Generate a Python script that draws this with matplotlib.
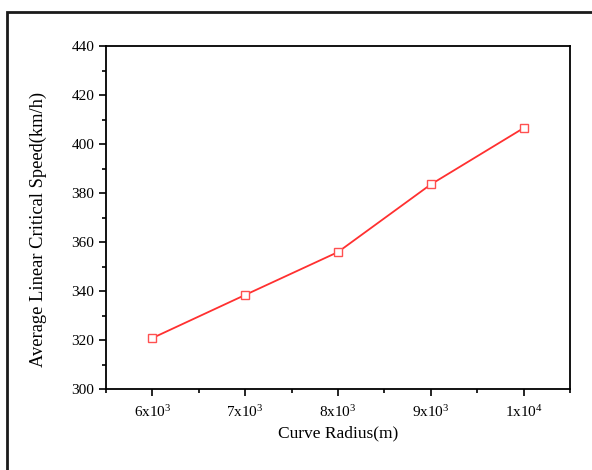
import matplotlib
matplotlib.use("Agg")
import matplotlib.pyplot as plt
from matplotlib.patches import Rectangle
from matplotlib.ticker import FixedLocator, MultipleLocator

plt.rcParams['font.family'] = ['Liberation Serif', 'DejaVu Serif']
plt.rcParams['mathtext.fontset'] = 'custom'
plt.rcParams['mathtext.rm'] = 'Liberation Serif'
plt.rcParams['mathtext.it'] = 'Liberation Serif'

radius = [6000, 7000, 8000, 9000, 10000]
speed = [320.8, 338.4, 355.9, 383.5, 406.5]
xtick_labels = ['6x10$^3$', '7x10$^3$', '8x10$^3$', '9x10$^3$', '1x10$^4$']

fig = plt.figure(figsize=(5.92, 4.70), dpi=100)
W, H = 592, 470
ax = fig.add_axes([106 / W, (H - 389) / H, (570 - 106) / W, (389 - 46) / H])

ax.plot(radius, speed, color='#ff3030', lw=1.3, marker='s', markersize=6,
        markerfacecolor='white', markeredgecolor='#ff5050', markeredgewidth=1.0)

ax.set_xlim(5500, 10500)
ax.set_ylim(300, 440)
ax.xaxis.set_major_locator(FixedLocator(radius))
ax.set_xticklabels(xtick_labels)
ax.xaxis.set_minor_locator(MultipleLocator(500))
ax.yaxis.set_major_locator(MultipleLocator(20))
ax.yaxis.set_minor_locator(MultipleLocator(10))

ax.tick_params(which='both', direction='out', top=False, right=False, labelsize=11, width=1.2)
ax.tick_params(which='major', length=5)
ax.tick_params(which='minor', length=3)
ax.tick_params(axis='x', pad=6)
for s in ax.spines.values():
    s.set_linewidth(1.3)

ax.set_xlabel('Curve Radius(m)', fontsize=12.5)
ax.xaxis.set_label_coords(0.5, -0.105)
ax.set_ylabel('Average Linear Critical Speed(km/h)', fontsize=13.3)
ax.yaxis.set_label_coords(-0.128, 0.464)

fig.patches.append(Rectangle((7 / W, -0.1), 1.2, (H - 12) / H + 0.1, transform=fig.transFigure,
                             fill=False, edgecolor='#1a1a1a', linewidth=2.0))

fig.savefig('out.png', dpi=100)
